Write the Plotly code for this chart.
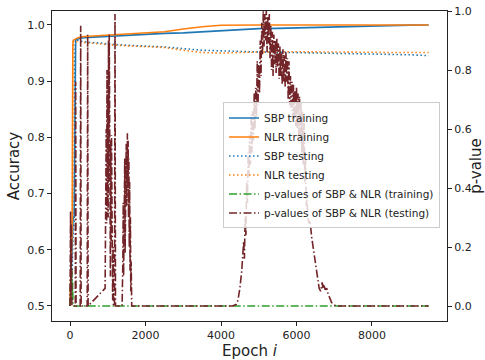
import plotly.graph_objects as go

# ---------------- data ----------------
sbp_train_epoch = [0, 40, 80, 110, 130, 150, 200, 300, 500, 1000, 1500, 2000, 2500, 3000, 3500,
                   4000, 4500, 5000, 5500, 6000, 6500, 7000, 7500, 8000, 8500, 9000, 9500]
sbp_train_acc = [0.50, 0.58, 0.655, 0.66, 0.96, 0.974, 0.975, 0.977, 0.978, 0.980, 0.982, 0.984,
                 0.985, 0.986, 0.988, 0.990, 0.992, 0.9935, 0.994, 0.995, 0.996, 0.997, 0.998,
                 0.9985, 0.9993, 0.9998, 1.0]

nlr_train_epoch = [0, 30, 60, 75, 90, 200, 300, 500, 1000, 1500, 2000, 2500, 3000, 3500, 4000,
                   4500, 5000, 6000, 7000, 8000, 9000, 9500]
nlr_train_acc = [0.50, 0.60, 0.66, 0.965, 0.973, 0.977, 0.979, 0.980, 0.982, 0.984, 0.9855, 0.988,
                 0.993, 0.997, 0.9995, 1.0, 1.0, 1.0, 1.0, 1.0, 1.0, 1.0]

sbp_test_epoch = [0, 50, 80, 110, 130, 150, 300, 500, 800, 1000, 1500, 2000, 2500, 3000, 3500,
                  4000, 4500, 5000, 5500, 6000, 6500, 7000, 7500, 8000, 8500, 9000, 9500]
sbp_test_acc = [0.50, 0.55, 0.62, 0.65, 0.95, 0.974, 0.971, 0.969, 0.968, 0.966, 0.964, 0.963,
                0.961, 0.958, 0.955, 0.954, 0.9525, 0.952, 0.9515, 0.951, 0.950, 0.950, 0.949,
                0.948, 0.948, 0.947, 0.9455]

nlr_test_epoch = [0, 30, 60, 75, 90, 200, 500, 1000, 1500, 2000, 2500, 3000, 3500, 4000, 4500,
                  5000, 5500, 6000, 6500, 7000, 7500, 8000, 8500, 9000, 9500]
nlr_test_acc = [0.50, 0.58, 0.64, 0.95, 0.972, 0.970, 0.968, 0.965, 0.963, 0.962, 0.960, 0.955,
                0.951, 0.950, 0.9515, 0.952, 0.9525, 0.9525, 0.952, 0.952, 0.9515, 0.9515, 0.951,
                0.951, 0.951]

p_train_epoch = [0, 10, 20, 30, 40, 50, 60, 70, 80, 100, 9500]
p_train_val = [0.0, 0.10, 0.03, 0.15, 0.06, 0.12, 0.02, 0.08, 0.0, 0.0, 0.0]

p_test_epoch = [
    0, 15, 25, 35, 50, 140, 150, 160, 270, 283, 295, 455, 468, 480,
    930, 940, 950, 960, 970, 980, 990, 1000, 1010, 1020, 1030, 1040, 1050, 1060, 1070, 1080,
    1090, 1100, 1110, 1120, 1130, 1140, 1150, 1180, 1192, 1205,
    1380, 1400, 1410, 1420, 1430, 1440, 1450, 1460, 1470, 1480, 1490, 1500, 1510, 1520, 1530,
    1540, 1550, 1560, 1570, 1580, 1590, 1600, 1610, 1620, 1635,
    4300, 4400, 4450, 4500, 4550,
    4600, 4620, 4640, 4660, 4680, 4700, 4720, 4740, 4760, 4780, 4800, 4820, 4840, 4860, 4880,
    4900, 4920, 4940, 4960, 4980, 5000, 5020, 5040, 5060, 5080, 5100, 5120, 5140, 5160, 5180,
    5200, 5220, 5240, 5260, 5280, 5300, 5320, 5340, 5360, 5380, 5400, 5420, 5440, 5460, 5480,
    5500, 5520, 5540, 5560, 5580, 5600, 5620, 5640, 5660, 5680, 5700, 5720, 5740, 5760, 5780,
    5800, 5820, 5840, 5860, 5880, 5900, 5920, 5940, 5960, 5980, 6000, 6020, 6040, 6060, 6080,
    6100, 6120, 6140, 6160, 6180, 6200, 6220, 6240, 6260, 6280, 6300,
    6330, 6360, 6400, 6440, 6480, 6520, 6560, 6600, 6640, 6680, 6700, 6720, 6760, 6800, 6840,
    6880, 6930, 6980, 7050, 9500]
p_test_val = [
    0.0, 0.32, 0.02, 0.28, 0.0, 0.0, 0.76, 0.0, 0.0, 0.95, 0.0, 0.0, 0.92, 0.0,
    0.06, 0.45, 0.12, 0.60, 0.28, 0.80, 0.36, 0.70, 0.30, 0.90, 0.42, 0.92, 0.18, 0.64, 0.10, 0.56,
    0.22, 0.58, 0.05, 0.38, 0.02, 0.20, 0.0, 0.0, 0.99, 0.0,
    0.0, 0.15, 0.35, 0.10, 0.45, 0.22, 0.50, 0.18, 0.48, 0.30, 0.55, 0.34, 0.57, 0.586, 0.40,
    0.56, 0.30, 0.50, 0.20, 0.42, 0.12, 0.30, 0.05, 0.15, 0.0,
    0.0, 0.005, 0.02, 0.06, 0.12,
    0.22, 0.16, 0.30, 0.24, 0.42, 0.35, 0.52, 0.44, 0.58, 0.48, 0.65, 0.52, 0.66, 0.56, 0.72,
    0.60, 0.74, 0.64, 0.83, 0.68, 0.82, 0.72, 0.90, 0.78, 0.96, 0.85, 1.0, 0.88, 0.99, 0.90,
    1.0, 0.86, 0.98, 0.89, 0.99, 0.84, 0.95, 0.80, 0.93, 0.78, 0.92, 0.82, 0.90, 0.79, 0.91,
    0.81, 0.89, 0.77, 0.88, 0.78, 0.86, 0.75, 0.87, 0.76, 0.85, 0.74, 0.86, 0.76, 0.84, 0.70,
    0.83, 0.68, 0.78, 0.66, 0.76, 0.64, 0.75, 0.63, 0.73, 0.61, 0.74, 0.60, 0.72, 0.58, 0.71,
    0.56, 0.69, 0.52, 0.66, 0.48, 0.62, 0.42, 0.50, 0.34, 0.36, 0.30,
    0.28, 0.29, 0.235, 0.20, 0.17, 0.12, 0.10, 0.06, 0.05, 0.08, 0.06, 0.075, 0.055, 0.06, 0.04,
    0.025, 0.012, 0.005, 0.0, 0.0]

x_ticks = [0, 2000, 4000, 6000, 8000]
acc_ticks = [0.5, 0.6, 0.7, 0.8, 0.9, 1.0]
p_ticks = [0.0, 0.2, 0.4, 0.6, 0.8, 1.0]

# ---------------- figure ----------------
BLUE, ORANGE, GREEN, BROWN = "#1f77b4", "#ff7f0e", "#2ca02c", "#722428"
LW = 1.6
DOT = "1.5px,2.5px"
DASHDOT = "8px,2.5px,1.5px,2.5px"

fig = go.Figure()
fig.add_trace(go.Scatter(x=sbp_train_epoch, y=sbp_train_acc, mode="lines", name="SBP training",
                         line=dict(color=BLUE, width=LW)))
fig.add_trace(go.Scatter(x=nlr_train_epoch, y=nlr_train_acc, mode="lines", name="NLR training",
                         line=dict(color=ORANGE, width=LW)))
fig.add_trace(go.Scatter(x=sbp_test_epoch, y=sbp_test_acc, mode="lines", name="SBP testing",
                         line=dict(color=BLUE, width=LW, dash=DOT)))
fig.add_trace(go.Scatter(x=nlr_test_epoch, y=nlr_test_acc, mode="lines", name="NLR testing",
                         line=dict(color=ORANGE, width=LW, dash=DOT)))
fig.add_trace(go.Scatter(x=p_train_epoch, y=p_train_val, mode="lines", yaxis="y2",
                         name="p-values of SBP &amp; NLR (training)",
                         line=dict(color=GREEN, width=LW, dash=DASHDOT)))
fig.add_trace(go.Scatter(x=p_test_epoch, y=p_test_val, mode="lines", yaxis="y2",
                         name="p-values of SBP &amp; NLR (testing)",
                         line=dict(color=BROWN, width=LW, dash=DASHDOT)))

axis_common = dict(showgrid=False, zeroline=False, showline=True, linecolor="#222",
                   linewidth=1, ticks="outside", ticklen=4, tickcolor="#222",
                   tickfont=dict(size=11, color="#222"), automargin=True)

fig.update_layout(
    width=485, height=360,
    margin=dict(l=52, r=38, t=11, b=39, autoexpand=False),
    paper_bgcolor="white", plot_bgcolor="white",
    font=dict(family="DejaVu Sans", color="#222"),
    showlegend=True,
    legend=dict(x=0.433, y=0.705, xanchor="left", yanchor="top",
                bgcolor="rgba(255,255,255,0.8)", bordercolor="#cccccc", borderwidth=1,
                font=dict(size=10.5, color="#222"), tracegroupgap=0),
    xaxis=dict(range=[-477, 9987], tickvals=x_ticks, mirror=True,
               title=dict(text="Epoch <i>i</i>", font=dict(size=15), standoff=2),
               **axis_common),
    yaxis=dict(range=[0.4733, 1.0249], tickvals=acc_ticks, tickformat=".1f",
               title=dict(text="Accuracy", font=dict(size=15), standoff=4),
               **axis_common),
    yaxis2=dict(range=[-0.0508, 1.0], tickvals=p_ticks, tickformat=".1f", overlaying="y",
                side="right", title=dict(text="p-value", font=dict(size=15), standoff=9),
                **axis_common),
    hovermode=False,
)

fig.write_html("out.html", config={"displayModeBar": False})
